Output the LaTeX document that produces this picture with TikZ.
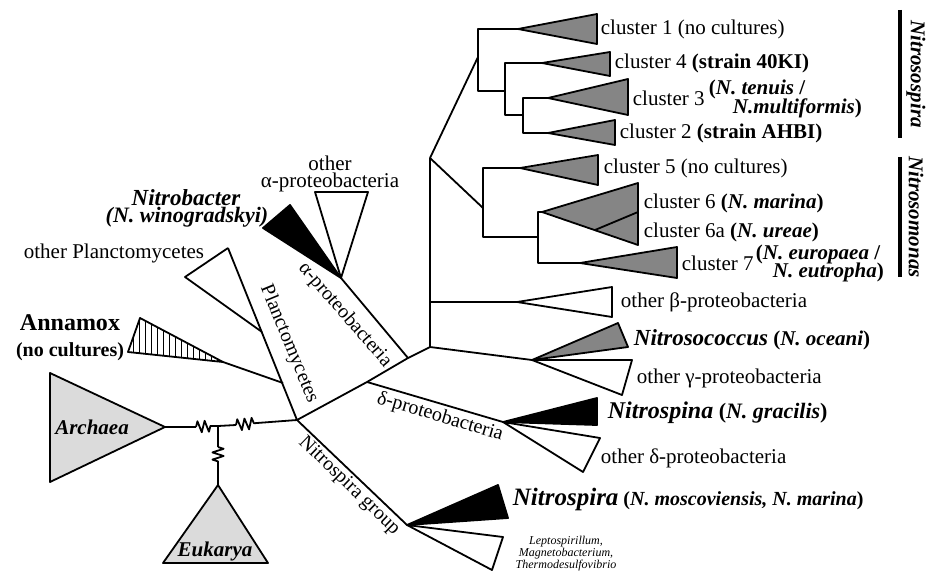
\documentclass[tikz,border=0pt]{standalone}
\usepackage{fontspec}
\setmainfont{Liberation Serif}
\usetikzlibrary{patterns}
\usetikzlibrary{decorations.pathmorphing}

\definecolor{cgray}{gray}{0.52}
\definecolor{lgray}{gray}{0.86}

\tikzset{
	lbl/.style={anchor=west, inner sep=1pt, font=\fontsize{10.5}{12}\selectfont},
	txt/.style={inner sep=1pt, font=\fontsize{10.5}{12}\selectfont},
	bitxt/.style={inner sep=1pt, font=\fontsize{11}{13}\selectfont\bfseries\itshape},
	brlbl/.style={inner sep=1pt, font=\fontsize{10}{12}\selectfont},
	whiteclade/.style={draw, fill=white},
	grayclade/.style={draw, fill=cgray},
	blackclade/.style={draw, fill=black},
	brk/.style={decorate, decoration={zigzag, segment length=3.6pt, amplitude=2.8pt}}
}

\begin{document}
\begin{tikzpicture}[x=0.5pt, y=-0.5pt, line width=0.9pt, line join=round]
	\useasboundingbox (0,0) rectangle (929,572);

	%Junctions
	\coordinate (root) at (297,420);
	\coordinate (jdelta) at (367,382);
	\coordinate (jalpha) at (408,358);
	\coordinate (jbase) at (430,347);
	\coordinate (jbeta) at (430,302);
	\coordinate (jtop) at (430,158);
	\coordinate (j1) at (218,426);

	%Apices
	\coordinate (aArch) at (165,427);
	\coordinate (aEuk) at (218,485);
	\coordinate (pTop) at (228,248);
	\coordinate (pApex) at (262,332);
	\coordinate (jAnn) at (283,383);
	\coordinate (aAnn) at (223,362);
	\coordinate (aAlp) at (341,278);
	\coordinate (aBeta) at (517,302);
	\coordinate (aGam) at (532,360);
	\coordinate (aDel) at (503,422);
	\coordinate (aNsp) at (407,525);

	%Breaks
	\coordinate (k1a) at (196,427);
	\coordinate (k1b) at (211,426);
	\coordinate (k2a) at (236,425);
	\coordinate (k2b) at (257,423);
	\coordinate (k3a) at (218,447);
	\coordinate (k3b) at (218,465);

	%Archaea and Eukarya
	\draw[fill=lgray] (50,373) -- (aArch) -- (50,482) -- cycle;
	\node[bitxt, font=\fontsize{10.5}{12}\selectfont\bfseries\itshape] (archaea) at (92,427) {Archaea};
	\draw[fill=lgray] (aEuk) -- (268,563) -- (163,563) -- cycle;
	\node[bitxt, font=\fontsize{10.5}{12}\selectfont\bfseries\itshape] (eukarya) at (215,551) {Eukarya};
	\draw (aArch) -- (k1a);
	\draw[brk] (k1a) -- (k1b);
	\draw (k1b) -- (j1) -- (k2a);
	\draw[brk] (k2a) -- (k2b);
	\draw (k2b) -- (root);
	\draw (j1) -- (k3a);
	\draw[brk] (k3a) -- (k3b);
	\draw (k3b) -- (aEuk);

	%Trunk
	\draw (root) -- (jdelta) -- (jalpha) -- (jbase) -- (jtop);
	\draw (jbeta) -- (aBeta);
	\draw (jbase) -- (aGam);
	\draw (jdelta) -- (aDel);
	\draw (jalpha) -- (aAlp);
	\draw (root) -- (aNsp);

	%Planctomycetes
	\draw[whiteclade] (pTop) -- (185,277) -- (pApex);
	\draw (pTop) -- (root);
	\draw[pattern=vertical lines] (140,318) -- (128,352) -- (aAnn) -- cycle;
	\draw (aAnn) -- (jAnn);
	\node[brlbl, rotate=-67.6] (plancto) at (289,344) {Planctomycetes};
	\node[txt] (lpl) at (114,253) {other Planctomycetes};
	\node[txt, font=\fontsize{12}{14}\selectfont\bfseries] (lann) at (70,323) {Annamox};
	\node[txt, font=\fontsize{10}{12}\selectfont\bfseries] (lnocu) at (70,352) {(no cultures)};

	%Alpha
	\draw[blackclade] (263,228) -- (290,205) -- (aAlp) -- cycle;
	\draw[whiteclade] (315,192) -- (368,192) -- (aAlp) -- cycle;
	\node[brlbl, rotate=-49] (alphalbl) at (345,315) {α-proteobacteria};
	\node[bitxt, font=\fontsize{11.5}{13}\selectfont\bfseries\itshape] (lnb) at (186,198) {Nitrobacter};
	\node[bitxt] (lnbw) at (187,217) {(N. winogradskyi)};
	\node[txt] (loa1) at (330,163) {other};
	\node[txt] (loa2) at (330,182) {α-proteobacteria};

	%Nitrosospira
	\coordinate (spA) at (478,57);
	\coordinate (spB) at (505,91);
	\coordinate (spC) at (523,115);
	\coordinate (c1) at (518,29);
	\coordinate (c4) at (542,63);
	\coordinate (c3) at (548,98);
	\coordinate (c2) at (548,133);
	\draw (jtop) -- (spA);
	\draw (c1) -| (spA) |- (spB);
	\draw (c4) -| (spB) |- (spC);
	\draw (c3) -| (spC) |- (c2);
	\draw[grayclade] (c1) -- (597,14) -- (597,44) -- cycle;
	\draw[grayclade] (c4) -- (610,52) -- (610,76) -- cycle;
	\draw[grayclade] (c3) -- (628,79) -- (628,115) -- cycle;
	\draw[grayclade] (c2) -- (615,120) -- (615,145) -- cycle;
	\node[lbl] (l1) at (598,29) {cluster 1 (no cultures)};
	\node[lbl] (l4) at (612,63) {cluster 4 \textbf{(strain 40KI)}};
	\node[lbl] (l3) at (630,98) {cluster 3};
	\node[lbl] (l3a) at (706,89) {\textbf{(\textit{N. tenuis} /}};
	\node[lbl] (l3b) at (730,108) {\textbf{\textit{N.multiformis})}};
	\node[lbl] (l2) at (617,133) {cluster 2 \textbf{(strain AHBI)}};

	%Nitrosomonas
	\coordinate (smA) at (483,208);
	\coordinate (smB) at (538,237);
	\coordinate (c5) at (520,168);
	\coordinate (c6) at (542,212);
	\coordinate (c7) at (580,263);
	\draw (jtop) -- (smA);
	\draw (c5) -| (smA) |- (smB);
	\draw (c6) -| (smB) |- (c7);
	\draw[grayclade] (c5) -- (598,155) -- (598,185) -- cycle;
	\draw[grayclade] (c6) -- (638,183) -- (638,245) -- cycle;
	\draw (595,230) -- (638,212);
	\draw[grayclade] (c7) -- (677,247) -- (677,278) -- cycle;
	\node[lbl] (l5) at (601,168) {cluster 5 (no cultures)};
	\node[lbl] (l6) at (641,203) {cluster 6 \textbf{(\textit{N. marina})}};
	\node[lbl] (l6a) at (641,232) {cluster 6a \textbf{(\textit{N. ureae})}};
	\node[lbl] (l7) at (679,263) {cluster 7};
	\node[lbl] (l7a) at (753,254) {\textbf{(\textit{N. europaea} /}};
	\node[lbl] (l7b) at (770,272) {\textbf{\textit{N. eutropha})}};

	%Side bars
	\draw[line width=2.2pt] (900,10) -- (900,138);
	\draw[line width=2.2pt] (900,157) -- (900,277);
	\node[bitxt, font=\fontsize{10.5}{12}\selectfont\bfseries\itshape, rotate=-90] (lnss) at (916,74) {Nitrosospira};
	\node[bitxt, font=\fontsize{10.5}{12}\selectfont\bfseries\itshape, rotate=-90] (lnsm) at (916,217) {Nitrosomonas};

	%Beta and gamma
	\draw[whiteclade] (aBeta) -- (612,287) -- (612,317) -- cycle;
	\draw[grayclade] (aGam) -- (618,323) -- (628,347) -- cycle;
	\draw[whiteclade] (aGam) -- (632,360) -- (622,395) -- cycle;
	\node[lbl] (lbeta) at (618,302) {other β-proteobacteria};
	\node[lbl] (lnc) at (631,340) {\textbf{\textit{\fontsize{11.5}{13}\selectfont Nitrosococcus} (\textit{N. oceani})}};
	\node[lbl] (lgam) at (634,378) {other γ-proteobacteria};

	%Delta
	\draw[blackclade] (aDel) -- (597,398) -- (597,425) -- cycle;
	\draw[whiteclade] (aDel) -- (600,438) -- (583,472) -- cycle;
	\node[brlbl, rotate=-16.4] (deltalbl) at (440,417) {δ-proteobacteria};
	\node[lbl, font=\fontsize{11}{13}\selectfont] (lnspina) at (605,413) {\textbf{\textit{\fontsize{12}{14}\selectfont Nitrospina} (\textit{N. gracilis})}};
	\node[lbl] (ldel) at (598,458) {other δ-proteobacteria};

	%Nitrospira group
	\draw[blackclade] (aNsp) -- (498,485) -- (508,518) -- cycle;
	\draw[whiteclade] (aNsp) -- (503,537) -- (492,570) -- cycle;
	\node[brlbl, rotate=-44] (nsplbl) at (349,486) {Nitrospira group};
	\node[lbl, font=\fontsize{10}{12}\selectfont] (lnspira) at (510,499) {\textbf{\textit{\fontsize{12.5}{15}\selectfont Nitrospira} (\textit{N. moscoviensis, N. marina})}};
	\node[inner sep=0pt, align=center, font=\fontsize{6}{6}\selectfont\itshape] (llep) at (566,554) {Leptospirillum,\\Magnetobacterium,\\Thermodesulfovibrio};

\end{tikzpicture}
\end{document}
